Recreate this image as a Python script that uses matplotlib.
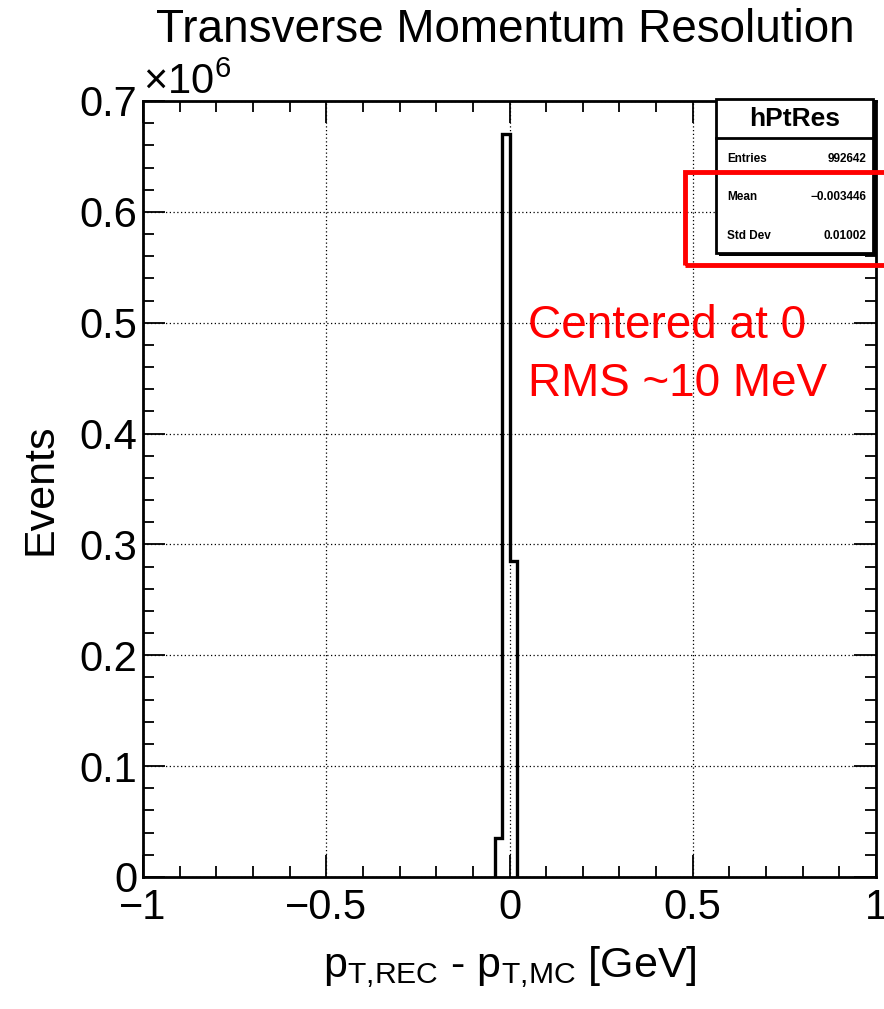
import numpy as np
import matplotlib
matplotlib.use("Agg")
import matplotlib.pyplot as plt
from matplotlib.ticker import MultipleLocator, FuncFormatter
from matplotlib.patches import Rectangle

plt.rcParams['font.family'] = ['Liberation Sans', 'DejaVu Sans']
plt.rcParams['mathtext.fontset'] = 'custom'
plt.rcParams['mathtext.rm'] = 'Liberation Sans'
plt.rcParams['mathtext.it'] = 'Liberation Sans'

# Data (histogram, non-empty bins only)
bin_edges = [-0.04, -0.02, 0.0, 0.02]
counts = [0.035e6, 0.67e6, 0.285e6]

stats_labels = ["Entries", "Mean", "Std Dev"]
stats_values = ["992642", "\u22120.003446", "0.01002"]

fig = plt.figure(figsize=(8.84, 10.09), dpi=100)
ax = fig.add_axes([143 / 884, 1 - 877 / 1009, (876 - 143) / 884, (877 - 101) / 1009])

ax.stairs(counts, bin_edges, color='black', lw=2.4, baseline=0)

ax.set_xlim(-1, 1)
ax.set_ylim(0, 0.7e6)

ax.xaxis.set_major_locator(MultipleLocator(0.5))
ax.xaxis.set_minor_locator(MultipleLocator(0.1))
ax.yaxis.set_major_locator(MultipleLocator(0.1e6))
ax.yaxis.set_minor_locator(MultipleLocator(0.02e6))

def xfmt(v, pos):
    if abs(v) < 1e-9:
        return "0"
    return ("%g" % v).replace("-", "\u2212")

def yfmt(v, pos):
    v = v / 1e6
    if abs(v) < 1e-9:
        return "0"
    return "%g" % v

ax.xaxis.set_major_formatter(FuncFormatter(xfmt))
ax.yaxis.set_major_formatter(FuncFormatter(yfmt))

ax.tick_params(which='both', direction='in', top=True, right=True, width=1.3,
               labelsize=30)
ax.tick_params(which='major', length=16)
ax.tick_params(which='minor', length=8)
ax.tick_params(axis='x', which='major', pad=8)
ax.tick_params(axis='y', which='major', pad=4)

for sp in ax.spines.values():
    sp.set_linewidth(2)

ax.grid(True, which='major', color='black', linestyle=(0, (1, 2)), lw=0.9)
ax.set_axisbelow(True)

ax.set_xlabel(r"p$_{\mathrm{T{,}REC}}$ - p$_{\mathrm{T{,}MC}}$ [GeV]", fontsize=31, labelpad=12)
ax.set_ylabel("Events", fontsize=31)
ax.yaxis.set_label_coords(-0.113, 0.5)

ax.text(0.0, 0.998, r"$\times$10$^{6}$", transform=ax.transAxes, fontsize=30,
        ha='left', va='bottom')

fig.text(505 / 884, 1 - 8 / 1009, "Transverse Momentum Resolution", fontsize=33,
         ha='center', va='top')

# stats box (pixel coords converted to figure fraction)
def fx(px):
    return px / 884

def fy(py):
    return 1 - py / 1009

# shadow
fig.patches.append(Rectangle((fx(719), fy(256)), fx(877) - fx(719), fy(103) - fy(256),
                             transform=fig.transFigure, facecolor='black', edgecolor='none', zorder=5))
fig.patches.append(Rectangle((fx(716), fy(253)), fx(873) - fx(716), fy(99) - fy(253),
                             transform=fig.transFigure, facecolor='white', edgecolor='black',
                             lw=2, zorder=6))
fig.lines.append(plt.Line2D([fx(716), fx(873)], [fy(138), fy(138)], transform=fig.transFigure,
                            color='black', lw=2, zorder=7))
fig.text(fx(795), fy(119), "hPtRes", fontsize=19, fontweight='bold', ha='center', va='center', zorder=8)
for i, (lab, val) in enumerate(zip(stats_labels, stats_values)):
    y = fy(159 + i * 38.5)
    fig.text(fx(727), y, lab, fontsize=8.5, fontweight='bold', ha='left', va='center', zorder=8)
    fig.text(fx(866), y, val, fontsize=8.5, fontweight='bold', ha='right', va='center', zorder=8)

# red highlight box
fig.patches.append(Rectangle((fx(685), fy(265)), fx(900) - fx(685), fy(172) - fy(265),
                             transform=fig.transFigure, facecolor='none', edgecolor='#ff0000',
                             lw=3.5, zorder=9))

fig.text(fx(528), fy(326), "Centered at 0", fontsize=33, color='#ff0000', ha='left', va='center')
fig.text(fx(528), fy(384), "RMS ~10 MeV", fontsize=33, color='#ff0000', ha='left', va='center')

fig.savefig("out.png", dpi=100)
